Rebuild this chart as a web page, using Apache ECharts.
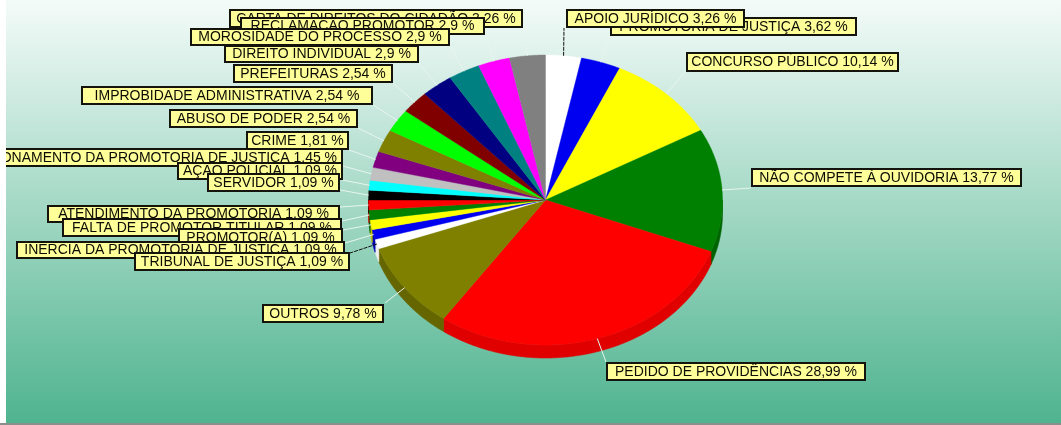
<!DOCTYPE html>
<html>
<head>
<meta charset="utf-8">
<style>html,body{margin:0;padding:0;background:#fff}#chart{width:1061px;height:425px}</style>
<script src="https://cdn.jsdelivr.net/npm/echarts@6/dist/echarts.min.js"></script>
</head>
<body>
<div id="chart"></div>
<script>
// Ouvidoria subjects, clockwise from twelve o'clock
const categories = [
  'APOIO JURÍDICO', 'PROMOTORIA DE JUSTIÇA', 'CONCURSO PÚBLICO', 'NÃO COMPETE À OUVIDORIA',
  'PEDIDO DE PROVIDÊNCIAS', 'OUTROS', 'TRIBUNAL DE JUSTIÇA', 'INÉRCIA DA PROMOTORIA DE JUSTIÇA',
  'PROMOTOR(A)', 'FALTA DE PROMOTOR TITULAR', 'ATENDIMENTO DA PROMOTORIA', 'SERVIDOR',
  'AÇÃO POLICIAL', 'FUNCIONAMENTO DA PROMOTORIA DE JUSTIÇA', 'CRIME', 'ABUSO DE PODER',
  'IMPROBIDADE ADMINISTRATIVA', 'PREFEITURAS', 'DIREITO INDIVIDUAL', 'MOROSIDADE DO PROCESSO',
  'RECLAMAÇÃO PROMOTOR', 'CARTA DE DIREITOS DO CIDADÃO'
];
const shares = [3.26, 3.62, 10.14, 13.77, 28.99, 9.78, 1.09, 1.09, 1.09, 1.09, 1.09, 1.09, 1.09, 1.45, 1.81, 2.54, 2.54, 2.54, 2.9, 2.9, 2.9, 3.26];
const shareTexts = ['3,26', '3,62', '10,14', '13,77', '28,99', '9,78', '1,09', '1,09', '1,09', '1,09', '1,09', '1,09', '1,09', '1,45', '1,81', '2,54', '2,54', '2,54', '2,9', '2,9', '2,9', '3,26'];
const colors = ['#ffffff', '#0000f0', '#ffff00', '#008000', '#ff0000', '#808000', '#ffffff', '#0000f0', '#ffff00', '#008000', '#ff0000', '#000000', '#00ffff', '#c0c0c0', '#800080', '#808000', '#00ff00', '#800000', '#000080', '#008080', '#ff00ff', '#808080'];
const wallColors = ['#eeeeee', '#0000b0', '#c0c000', '#006400', '#e00000', '#666600', '#eeeeee', '#0000b0', '#c0c000', '#006400', '#e00000', '#000000', '#00c0c0', '#909090', '#600060', '#666600', '#00c000', '#600000', '#000060', '#006060', '#c000c0', '#606060'];

// Callout boxes [left, top, right, bottom] and the point where each leader meets its box
const labelBoxes = [
  [566, 9, 745, 28], [610, 17, 857, 36], [686, 52, 899, 72], [751, 168, 1022, 187],
  [606, 362, 866, 381], [262, 304, 384, 323], [134, 252, 350, 271], [16, 241, 345, 259],
  [178, 228, 343, 247], [62, 218, 342, 237], [47, 205, 340, 223], [207, 173, 340, 192],
  [177, 162, 343, 180], [-48, 148, 343, 167], [246, 131, 349, 150], [169, 109, 358, 128],
  [81, 86, 373, 105], [233, 64, 393, 83], [224, 45, 419, 63], [190, 28, 450, 46],
  [240, 17, 485, 35], [229, 9, 523, 28]
];
const leaderEnds = [
  [564, 28], [610, 36], [686, 71], [751, 188], [606, 362], [385, 303], [350, 253], [345, 243],
  [343, 230], [342, 221], [340, 207], [340, 190], [342, 180], [343, 166], [349, 150], [358, 128],
  [373, 105], [393, 83], [419, 63], [450, 46], [485, 35], [523, 28]
];

const center = [545.5, 200];
const radiusX = 177;
const radiusY = 145;
const depth = 13;
const total = shares.reduce((a, b) => a + b, 0);

const startFractions = [];
shares.reduce((sum, v, i) => { startFractions[i] = sum / total; return sum + v; }, 0);

function rimPoint(angle, scale, dy) {
  return [
    center[0] + radiusX * scale * Math.sin(angle),
    center[1] + (dy || 0) - radiusY * scale * Math.cos(angle)
  ];
}
function sweep(index, value) {
  const from = startFractions[index] * 2 * Math.PI;
  return [from, from + value / total * 2 * Math.PI];
}
function arcPoints(a0, a1, dy) {
  const steps = Math.max(2, Math.ceil((a1 - a0) / 0.01));
  const pts = [];
  for (let s = 0; s <= steps; s++) pts.push(rimPoint(a0 + (a1 - a0) * s / steps, 1, dy));
  return pts;
}

// The extruded rim shows only on the front half of the tilted disc
function renderWall(params, api) {
  const i = api.value(1);
  const [a0, a1] = sweep(i, api.value(0));
  const from = Math.max(a0, Math.PI / 2);
  const to = Math.min(a1, Math.PI * 3 / 2);
  if (to <= from) return { type: 'group', children: [] };
  const points = arcPoints(from, to, 0).concat(arcPoints(from, to, depth).reverse());
  return { type: 'polygon', shape: { points }, style: { fill: wallColors[i], stroke: wallColors[i], lineWidth: 0.6 } };
}
function renderFace(params, api) {
  const i = api.value(1);
  const [a0, a1] = sweep(i, api.value(0));
  const points = [center].concat(arcPoints(a0, a1, 0));
  return { type: 'polygon', shape: { points }, style: { fill: colors[i], stroke: colors[i], lineWidth: 0.4 } };
}
function renderLeader(params, api) {
  const i = api.value(1);
  const [a0, a1] = sweep(i, api.value(0));
  const from = rimPoint((a0 + a1) / 2, 1);
  const to = leaderEnds[i];
  const onWhite = colors[i] === '#ffffff';
  return {
    type: 'line',
    shape: { x1: from[0], y1: from[1], x2: to[0], y2: to[1] },
    style: { stroke: onWhite ? '#111111' : '#e8f5f0', lineWidth: 1, lineDash: onWhite ? [4, 1] : null }
  };
}
function renderLabel(params, api) {
  const i = api.value(1);
  const [x0, y0, x1, y1] = labelBoxes[i];
  return {
    type: 'group',
    children: [
      { type: 'rect', shape: { x: x0 + 1, y: y0 + 1, width: x1 - x0 - 2, height: y1 - y0 - 2 },
        style: { fill: '#ffff99', stroke: '#14140c', lineWidth: 2 } },
      { type: 'text', x: (x0 + x1) / 2, y: (y0 + y1) / 2 + 0.5,
        style: { text: categories[i] + ' ' + shareTexts[i] + ' %', fill: '#0c0c04',
          font: '14px "Liberation Sans", Arial, sans-serif', align: 'center', verticalAlign: 'middle' } }
    ]
  };
}

const sliceData = shares.map((v, i) => [v, i]);
const labelData = sliceData.slice().reverse();
const customSeries = (z, renderItem, data) => ({
  type: 'custom', coordinateSystem: 'none', z, silent: true, animation: false,
  renderItem, data, encode: { value: 0 }
});

const chart = echarts.init(document.getElementById('chart'), null, { width: 1061, height: 425 });
chart.setOption({
  animation: false,
  backgroundColor: '#ffffff',
  graphic: [
    { type: 'rect', z: -10, silent: true, shape: { x: 6, y: 0, width: 1055, height: 423 },
      style: { fill: new echarts.graphic.LinearGradient(0, 0, 0, 1, [
        { offset: 0, color: '#f4fbf9' }, { offset: 1, color: '#4fb48f' }]) } },
    { type: 'rect', z: 100, silent: true, shape: { x: 0, y: 0, width: 6, height: 425 }, style: { fill: '#ffffff' } },
    { type: 'rect', z: 100, silent: true, shape: { x: 0, y: 423, width: 1061, height: 2 }, style: { fill: '#8a8f8c' } }
  ],
  series: [
    customSeries(2, renderWall, sliceData),
    customSeries(3, renderFace, sliceData),
    customSeries(4, renderLeader, sliceData),
    customSeries(5, renderLabel, labelData)
  ]
});
</script>
</body>
</html>
